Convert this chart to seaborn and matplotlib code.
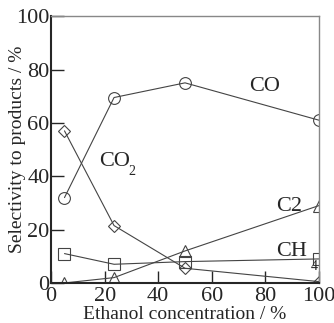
import pandas as pd
import matplotlib.pyplot as plt
import seaborn as sns

# Data
ethanol = [5, 23.5, 50, 100]
co = [32, 69.5, 75, 61]
co2 = [57, 21.5, 5.5, 0.5]
c2 = [0, 2, 12, 29]
ch4 = [11, 7, 8, 9]

sns.set_style("ticks")
plt.rcParams['font.family'] = ['Liberation Serif', 'DejaVu Serif']

fig, ax = plt.subplots(figsize=(3.34, 3.23), dpi=100)

series = [("CO", co, "o"), ("CO2", co2, "D"), ("C2", c2, "^"), ("CH4", ch4, "s")]
for name, vals, mk in series:
    df = pd.DataFrame({"x": ethanol, "y": vals})
    sns.lineplot(data=df, x="x", y="y", ax=ax, color="#444444", lw=0.8,
                 marker=mk, markersize=8.5 if mk != "D" else 6,
                 markerfacecolor="none", markeredgecolor="#444444", markeredgewidth=0.8)

ax.set_xlim(0, 100)
ax.set_ylim(0, 100)
ax.set_xticks(range(0, 101, 20))
ax.set_yticks(range(0, 101, 20))
ax.tick_params(direction="in", length=9, width=1, labelsize=16)
ax.tick_params(axis="x", pad=3)
ax.tick_params(axis="y", pad=1)
for s in ["left", "bottom"]:
    ax.spines[s].set_linewidth(1.5)
for s in ["top", "right"]:
    ax.spines[s].set_color("#888888")
    ax.spines[s].set_linewidth(1)

ax.set_xlabel("Ethanol concentration / %", fontsize=14, labelpad=0)
ax.set_ylabel("Selectivity to products / %", fontsize=14, labelpad=-7)

# series labels, subscripts drawn as separate smaller text
ax.text(74, 72, "CO", fontsize=16)
ax.text(18, 44, "CO", fontsize=16)
ax.text(29, 40.5, "2", fontsize=10)
ax.text(84, 27, "C2", fontsize=16)
ax.text(84, 10, "CH", fontsize=16)
ax.text(97, 5, "4", fontsize=10)

fig.subplots_adjust(left=0.153, right=0.955, top=0.95, bottom=0.124)
fig.savefig("out.png", dpi=100)
